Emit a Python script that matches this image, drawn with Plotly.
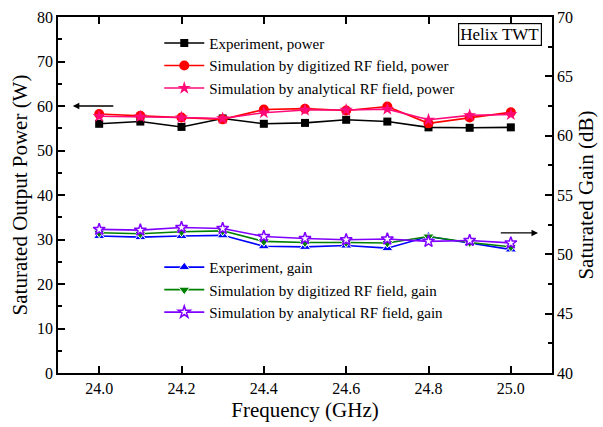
import plotly.graph_objects as go

freq = [24.0, 24.1, 24.2, 24.3, 24.4, 24.5, 24.6, 24.7, 24.8, 24.9, 25.0]

exp_power = [56.0, 56.5, 55.3, 57.2, 56.0, 56.2, 56.9, 56.5, 55.2, 55.1, 55.2]
dig_power = [58.2, 57.8, 57.4, 57.0, 59.2, 59.4, 59.0, 59.9, 56.1, 57.4, 58.6]
ana_power = [57.7, 57.6, 57.4, 57.2, 58.5, 59.1, 59.1, 59.3, 56.9, 57.9, 58.1]

exp_gain = [51.55, 51.45, 51.55, 51.6, 50.68, 50.63, 50.74, 50.52, 51.5, 50.96, 50.41]
dig_gain = [51.82, 51.74, 51.9, 51.98, 51.09, 51.0, 51.0, 50.96, 51.5, 51.0, 50.63]
ana_gain = [52.1, 52.04, 52.26, 52.18, 51.5, 51.33, 51.23, 51.29, 51.09, 51.17, 50.96]

FONT = "Liberation Serif"

fig = go.Figure()

def add(y, name, color, symbol, size, yaxis, legend, group, fill=None, outline=None, olw=0):
    fig.add_trace(go.Scatter(
        x=freq, y=y, name=name, mode="lines+markers", yaxis=yaxis, legend=legend,
        legendgroup=group,
        line=dict(color=color, width=1.6),
        marker=dict(symbol=symbol, size=size, color=fill or color,
                    line=dict(color=outline or color, width=olw)),
    ))

add(exp_power, "Experiment, power", "#000000", "square", 8, "y", "legend", "a")
add(dig_power, "Simulation by digitized RF field, power", "#FF0000", "circle", 10, "y", "legend", "b")
add(ana_power, "Simulation by analytical RF field, power", "#FF0A78", "star", 10, "y", "legend", "c")
add(exp_gain, "Experiment, gain", "#0000FF", "triangle-up", 10, "y2", "legend2", "d", outline="white", olw=1)
add(dig_gain, "Simulation by digitized RF field, gain", "#008000", "triangle-down", 10, "y2", "legend2", "e", outline="white", olw=1)
add(ana_gain, "Simulation by analytical RF field, gain", "#8000FF", "star", 9, "y2", "legend2", "f", fill="white", outline="#8000FF", olw=1.5)

axis_common = dict(showline=True, linecolor="black", linewidth=1.6, ticks="inside",
                   tickcolor="black", tickwidth=1.6, ticklen=7, showgrid=False, zeroline=False,
                   tickfont=dict(family=FONT, size=16, color="black"))

fig.update_layout(
    width=603, height=427,
    margin=dict(l=58, r=47, t=9, b=49),
    paper_bgcolor="white", plot_bgcolor="white",
    font=dict(family=FONT, color="black"),
    xaxis=dict(range=[23.9, 25.1], tickvals=[24.0, 24.2, 24.4, 24.6, 24.8, 25.0],
               ticktext=["24.0", "24.2", "24.4", "24.6", "24.8", "25.0"], mirror="ticks",
               title=dict(text="Frequency (GHz)", font=dict(family=FONT, size=21), standoff=6),
               **axis_common),
    yaxis=dict(range=[0, 80], dtick=10,
               minor=dict(dtick=5, ticks="inside", ticklen=4, tickcolor="black", tickwidth=1.6),
               title=dict(text="Saturated Output Power (W)", font=dict(family=FONT, size=21), standoff=4),
               **axis_common),
    yaxis2=dict(range=[40, 70], dtick=5, overlaying="y", side="right",
                minor=dict(dtick=2.5, ticks="inside", ticklen=4, tickcolor="black", tickwidth=1.6),
                title=dict(text="Saturated Gain (dB)", font=dict(family=FONT, size=21), standoff=6),
                **axis_common),
    legend=dict(x=0.205, y=0.9725, xanchor="left", yanchor="top", bgcolor="rgba(0,0,0,0)",
                font=dict(family=FONT, size=15), tracegroupgap=0, itemwidth=40),
    legend2=dict(x=0.205, y=0.343, xanchor="left", yanchor="top", bgcolor="rgba(0,0,0,0)",
                 font=dict(family=FONT, size=15), tracegroupgap=0, itemwidth=40),
    showlegend=True,
)

fig.add_annotation(x=0.98, y=0.984, xref="paper", yref="paper", xanchor="right", yanchor="top",
                   text="Helix TWT", showarrow=False, font=dict(family=FONT, size=17),
                   bordercolor="black", borderwidth=1.2, borderpad=1, bgcolor="white")

fig.add_annotation(x=23.936, y=60, xref="x", yref="y", ax=24.038, ay=60, axref="x", ayref="y",
                   text="", showarrow=True, arrowhead=2, arrowsize=1, arrowwidth=1.3, arrowcolor="black")
fig.add_annotation(x=25.066, y=51.8, xref="x", yref="y2", ax=24.972, ay=51.8, axref="x", ayref="y2",
                   text="", showarrow=True, arrowhead=2, arrowsize=1, arrowwidth=1.3, arrowcolor="black")

fig.write_html("out.html")
